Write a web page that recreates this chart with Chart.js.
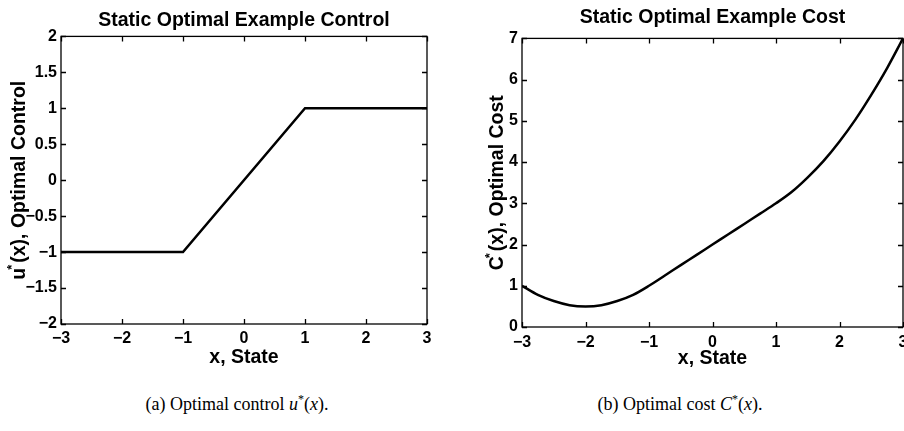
<!DOCTYPE html>
<html>
<head>
<meta charset="utf-8">
<script src="https://cdn.jsdelivr.net/npm/chart.js@4.4.1/dist/chart.umd.min.js"></script>
<style>
  html, body { margin: 0; padding: 0; background: #fff; overflow: hidden; width: 904px; height: 431px; }
  canvas { position: absolute; top: 0; }
  #ctrl { left: 0; }
  #cost { left: 452px; }
  .cap { position: absolute; top: 394px; font-family: 'Liberation Serif', 'Times New Roman', serif; font-size: 18px; color: #000; white-space: nowrap; transform: translateX(-50%); }
  .cap sup { font-size: 12px; vertical-align: 7px; line-height: 0; }
</style>
</head>
<body>
<canvas id="ctrl" width="452" height="380"></canvas>
<canvas id="cost" width="470" height="380"></canvas>
<div class="cap" style="left:237px">(a) Optimal control <i>u</i><sup>*</sup>(<i>x</i>).</div>
<div class="cap" style="left:680px">(b) Optimal cost <i>C</i><sup>*</sup>(<i>x</i>).</div>
<script>
// data
const ctrlX = [-3, -1, 1, 3];
const ctrlY = [-1, -1, 1, 1];

const costX = [-3, -2.75, -2.5, -2.25, -2, -1.75, -1.5, -1.25, -1, -0.75, -0.5, -0.25, 0,
               0.25, 0.5, 0.75, 1, 1.25, 1.5, 1.75, 2, 2.25, 2.5, 2.75, 3];
const costY = [1.0, 0.78, 0.63, 0.53, 0.5, 0.53, 0.63, 0.78, 1.0, 1.25, 1.5, 1.75, 2.0,
               2.25, 2.5, 2.75, 3.0, 3.28, 3.63, 4.03, 4.5, 5.03, 5.63, 6.28, 7.0];

const xTicks = [-3, -2, -1, 0, 1, 2, 3];
const uTicks = [-2, -1.5, -1, -0.5, 0, 0.5, 1, 1.5, 2];
const cTicks = [0, 1, 2, 3, 4, 5, 6, 7];

const ctrlTitle = "Static Optimal Example Control";
const costTitle = "Static Optimal Example Cost";
const xLabel = "x, State";
const uLabel = ["u", "(x), Optimal Control"];
const cLabel = ["C", "(x), Optimal Cost"];

Chart.defaults.font.family = "'Liberation Sans', Arial, Helvetica, sans-serif";
Chart.defaults.font.weight = "bold";
Chart.defaults.color = "#000";

const minus = v => String(v).replace("-", "\u2212");

// matlab style box with inward ticks + y label with superscript star
const boxPlugin = {
    id: "box",
    afterDraw(chart, args, opts) {
        const {ctx, chartArea: a, scales: {x, y}} = chart;
        ctx.save();
        ctx.strokeStyle = "#000";
        ctx.lineWidth = 1.3;
        ctx.strokeRect(a.left, a.top, a.width, a.height);
        ctx.beginPath();
        x.ticks.forEach(t => {
            const px = Math.round(x.getPixelForValue(t.value)) + 0.5;
            ctx.moveTo(px, a.bottom); ctx.lineTo(px, a.bottom - 5);
            ctx.moveTo(px, a.top); ctx.lineTo(px, a.top + 5);
        });
        y.ticks.forEach(t => {
            const py = Math.round(y.getPixelForValue(t.value)) + 0.5;
            ctx.moveTo(a.left, py); ctx.lineTo(a.left + 5, py);
            ctx.moveTo(a.right, py); ctx.lineTo(a.right - 5, py);
        });
        ctx.stroke();

        // rotated y axis title
        const big = "bold 19.5px 'Liberation Sans', Arial, sans-serif";
        const small = "bold 13px 'Liberation Sans', Arial, sans-serif";
        ctx.font = big;
        const w0 = ctx.measureText(opts.text[0]).width;
        const w1 = ctx.measureText(opts.text[1]).width;
        const gap = 5;
        const total = w0 + gap + w1;
        ctx.translate(opts.baseX, (a.top + a.bottom) / 2);
        ctx.rotate(-Math.PI / 2);
        ctx.fillStyle = "#000";
        ctx.textBaseline = "alphabetic";
        ctx.textAlign = "left";
        const sx = -total / 2;
        ctx.fillText(opts.text[0], sx, 0);
        ctx.font = small;
        ctx.fillText("*", sx + w0 - 2, -9);
        ctx.font = big;
        ctx.fillText(opts.text[1], sx + w0 + gap, 0);
        ctx.restore();
    }
};

function makeOptions(title, titlePad, yTicks, yMin, yMax, yWidth, xHeight, xTickPad, xTitlePad, padRight, yLabel, yBase) {
    return {
        responsive: false,
        animation: false,
        layout: { padding: { left: 0, right: padRight, top: 0, bottom: 0 } },
        scales: {
            x: {
                type: "linear",
                min: -3,
                max: 3,
                afterBuildTicks: axis => { axis.ticks = xTicks.map(v => ({ value: v })); },
                afterFit: axis => { axis.height = xHeight; },
                grid: { display: false, drawTicks: false },
                border: { display: false },
                ticks: { font: { size: 16 }, padding: xTickPad, callback: minus, maxRotation: 0 },
                title: { display: true, text: xLabel, font: { size: 19.5, lineHeight: 1.2 }, padding: { top: 0, bottom: xTitlePad } }
            },
            y: {
                min: yMin,
                max: yMax,
                afterBuildTicks: axis => { axis.ticks = yTicks.map(v => ({ value: v })); },
                afterFit: axis => { axis.width = yWidth; },
                grid: { display: false, drawTicks: false },
                border: { display: false },
                ticks: { font: { size: 16 }, padding: 4, callback: minus }
            }
        },
        plugins: {
            legend: { display: false },
            tooltip: { enabled: false },
            title: {
                display: true,
                fullSize: false,
                text: title,
                font: { size: 19.5, lineHeight: 1.2 },
                padding: titlePad
            },
            box: { text: yLabel, baseX: yBase }
        }
    };
}

new Chart(document.getElementById("ctrl"), {
    type: "line",
    data: {
        datasets: [{
            data: ctrlX.map((v, i) => ({ x: v, y: ctrlY[i] })),
            borderColor: "#000",
            borderWidth: 2.5,
            pointRadius: 0,
            tension: 0,
            fill: false
        }]
    },
    options: makeOptions(ctrlTitle, { top: 9, bottom: 4 }, uTicks, -2, 2, 61, 56, 5, 11, 25, uLabel, 25),
    plugins: [boxPlugin]
});

new Chart(document.getElementById("cost"), {
    type: "line",
    data: {
        datasets: [{
            data: costX.map((v, i) => ({ x: v, y: costY[i] })),
            borderColor: "#000",
            borderWidth: 2.5,
            pointRadius: 0,
            cubicInterpolationMode: "monotone",
            fill: false
        }]
    },
    options: makeOptions(costTitle, { top: 6, bottom: 9 }, cTicks, 0, 7, 70, 53, 6, 10, 19, cLabel, 51),
    plugins: [boxPlugin]
});
</script>
</body>
</html>
